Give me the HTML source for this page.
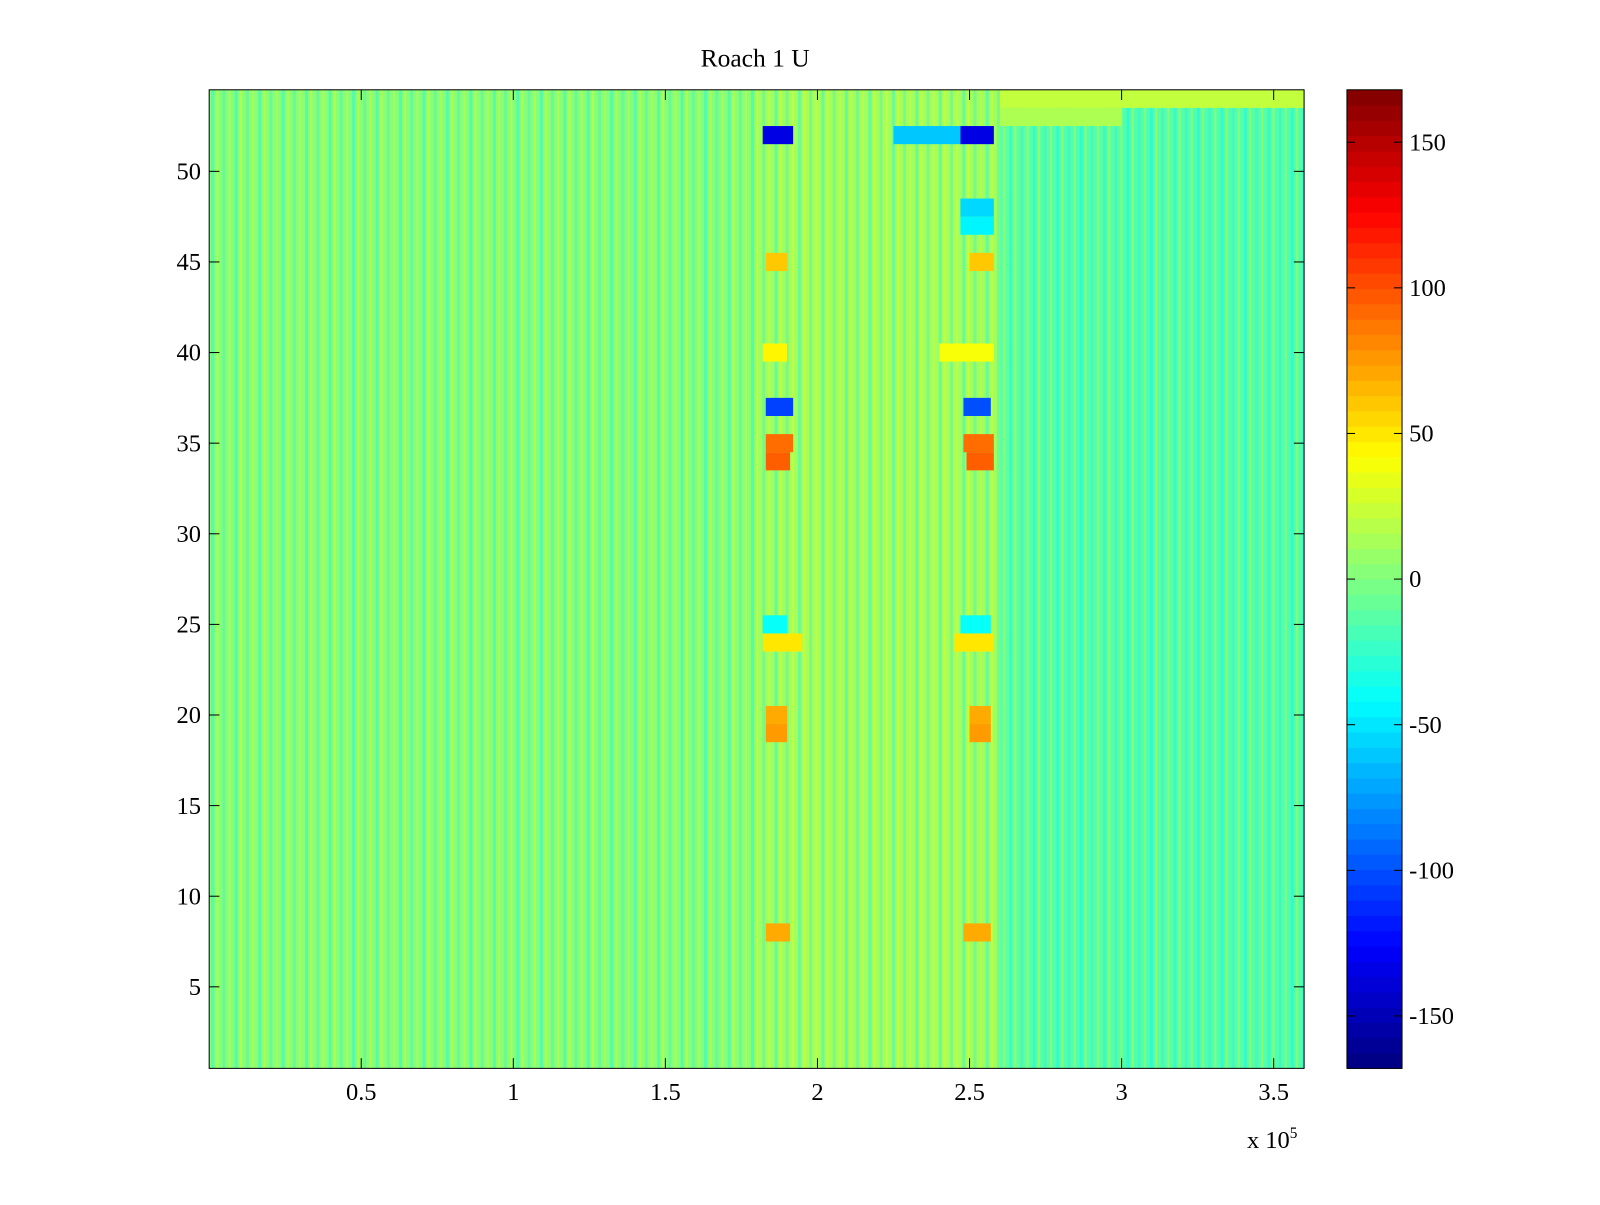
<!DOCTYPE html>
<html><head><meta charset="utf-8"><style>
body{margin:0;background:#fff;width:1600px;height:1200px;overflow:hidden;font-family:"Liberation Serif",serif;}
text{font-family:"Liberation Serif",serif;}
</style></head><body>
<svg id="chart" width="1600" height="1200" viewBox="0 0 1568 1176" preserveAspectRatio="none" xmlns="http://www.w3.org/2000/svg">
<defs>
<pattern id="tex" width="23" height="17.73" patternUnits="userSpaceOnUse">
<rect x="0" y="0" width="3" height="18" fill="#00f0ff" opacity="0.35"/>
<rect x="5" y="0" width="2" height="18" fill="#ffff00" opacity="0.35"/>
<rect x="11" y="0" width="3" height="18" fill="#30e8d0" opacity="0.3"/>
<rect x="17" y="0" width="2" height="18" fill="#e8ff20" opacity="0.35"/>
</pattern>
</defs>
<g id="cells"></g>
<g id="axes"></g>
</svg>
<script>
// Data
const colEdges = [0,0.1,0.2,0.3,0.4,0.5,0.6,0.7,0.8,0.9,1.0,1.1,1.2,1.3,1.4,1.5,1.6,1.7,1.8,1.9,2.0,2.1,2.2,2.3,2.4,2.5,2.6,2.7,2.8,2.9,3.0,3.1,3.2,3.3,3.4,3.5,3.6]; // x 10^5
const colBase = [1,3,2,3,2,3,1,3,2,3,1,3,2,1,3,2,1,3,10,12,11,10,12,11,12,10,-12,-14,-16,-14,-16,-14,-16,-15,-14,-16];
// features: row, x0, x1, value
const featRows = [52,52,52,37,37,35,35,34,34,20,20,19,19,8,8,24,24,25,25,45,45,40,40,48,47,54,53];
const featX0 =   [1.82,2.47,2.25,1.83,2.48,1.83,2.48,1.83,2.49,1.83,2.50,1.83,2.50,1.83,2.48,1.82,2.45,1.82,2.47,1.83,2.50,1.82,2.40,2.47,2.47,2.60,2.60];
const featX1 =   [1.92,2.58,2.47,1.92,2.57,1.92,2.58,1.91,2.58,1.90,2.57,1.90,2.57,1.91,2.57,1.95,2.58,1.90,2.57,1.90,2.58,1.90,2.58,2.58,2.58,3.60,3.00];
const featVal =  [-135,-135,-60,-105,-100,90,90,95,95,70,70,75,75,70,70,50,50,-40,-40,60,60,45,40,-55,-45,22,15];
const rows = 54;
const yTicks = [5,10,15,20,25,30,35,40,45,50];
const xTicks = [0.5,1,1.5,2,2.5,3,3.5];
const xTickLabels = ["0.5","1","1.5","2","2.5","3","3.5"];
const cbTicks = [-150,-100,-50,0,50,100,150];

const L=205,R=1278,T=88,B=1047;
const xMax=3.6, cMin=-168, cMax=168;
const sx=v=>L+(v/xMax)*(R-L);
const sy=v=>T+(rows+0.5-v)/(rows)*(B-T);
function jet(v){
  let t=(v-cMin)/(cMax-cMin); t=Math.max(0,Math.min(1,t));
  const c=x=>Math.round(255*Math.max(0,Math.min(1,x)));
  return `rgb(${c(1.5-Math.abs(4*t-3))},${c(1.5-Math.abs(4*t-2))},${c(1.5-Math.abs(4*t-1))})`;
}
const NS="http://www.w3.org/2000/svg";
const cells=document.getElementById('cells'), axes=document.getElementById('axes');
function mk(tag,attrs,parent){const e=document.createElementNS(NS,tag);for(const k in attrs)e.setAttribute(k,attrs[k]);parent.appendChild(e);return e;}
for(let i=0;i<colBase.length;i++){
  const r=mk('rect',{x:sx(colEdges[i]),y:T,width:sx(colEdges[i+1])-sx(colEdges[i])+0.5,height:B-T,fill:jet(colBase[i])},cells);
  
  
}
const tex=mk('rect',{x:L,y:T,width:R-L,height:B-T,fill:'url(#tex)'},cells);


for(let i=0;i<featRows.length;i++){
  const r=mk('rect',{x:sx(featX0[i]),y:sy(featRows[i]+0.5),width:sx(featX1[i])-sx(featX0[i]),height:sy(featRows[i]-0.5)-sy(featRows[i]+0.5),fill:jet(featVal[i])},cells);
  
  
}
const fr=mk('rect',{x:L,y:T,width:R-L,height:B-T,fill:'none',stroke:'#000','stroke-width':1},axes);


yTicks.forEach(v=>{
  const y=sy(v);
  mk('line',{x1:L,x2:L+10,y1:y,y2:y,stroke:'#000'},axes);
  mk('line',{x1:R,x2:R-10,y1:y,y2:y,stroke:'#000'},axes);
  const t=mk('text',{x:L-8,y:y+8,'text-anchor':'end','font-size':24},axes);t.textContent=v;
  
  
});
xTicks.forEach((v,i)=>{
  const x=sx(v);
  mk('line',{x1:x,x2:x,y1:B,y2:B-10,stroke:'#000'},axes);
  mk('line',{x1:x,x2:x,y1:T,y2:T+10,stroke:'#000'},axes);
  const t=mk('text',{x:x,y:B+31,'text-anchor':'middle','font-size':24},axes);t.textContent=xTickLabels[i];
  
  
});
const ex=mk('text',{x:1222,y:1125,'font-size':24},axes);ex.innerHTML='x 10<tspan dy="-10" font-size="15">5</tspan>';


const ti=mk('text',{x:740,y:65,'text-anchor':'middle','font-size':25},axes);ti.textContent='Roach 1 U';


const CL=1320,CR=1374;
const cy=v=>T+(cMax-v)/(cMax-cMin)*(B-T);
const nSteps=64;
for(let k=0;k<nSteps;k++){
  const v0=cMin+(cMax-cMin)*k/nSteps, v1=cMin+(cMax-cMin)*(k+1)/nSteps;
  const r=mk('rect',{x:CL,y:cy(v1),width:CR-CL,height:cy(v0)-cy(v1)+0.5,fill:jet((v0+v1)/2)},axes);
  
  
}
const cf=mk('rect',{x:CL,y:T,width:CR-CL,height:B-T,fill:'none',stroke:'#000'},axes);


cbTicks.forEach(v=>{
  const y=cy(v);
  mk('line',{x1:CL,x2:CL+8,y1:y,y2:y,stroke:'#000'},axes);
  mk('line',{x1:CR,x2:CR-8,y1:y,y2:y,stroke:'#000'},axes);
  const t=mk('text',{x:CR+7,y:y+8,'font-size':24},axes);t.textContent=v;
  
  
});
</script>
</body></html>
